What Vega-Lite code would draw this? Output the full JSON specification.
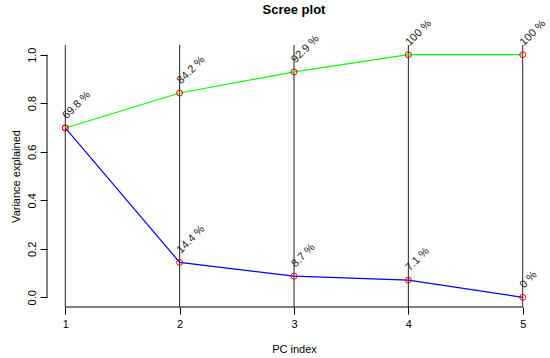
{
  "$schema": "https://vega.github.io/schema/vega-lite/v6.json",
  "autosize": {"type": "none"},
  "width": 494,
  "height": 262,
  "padding": {"left": 47, "top": 45, "right": 9, "bottom": 51},
  "background": "white",
  "config": {
    "view": {"stroke": null},
    "font": "Liberation Sans",
    "axis": {"grid": false, "domain": false, "tickColor": "#000", "labelColor": "#000", "titleColor": "#000", "labelFontSize": 11, "titleFontSize": 11, "titleFontWeight": "normal", "tickSize": 7, "labelFont": "Liberation Sans", "titleFont": "Liberation Sans"}
  },
  "title": {"text": "Scree plot", "fontSize": 13, "fontWeight": "bold", "color": "#000", "anchor": "middle", "offset": 1, "font": "Liberation Sans"},
  "datasets": {
    "pts": [
      {"pc": 1, "series": "individual", "value": 0.698, "label": "69.8 %"},
      {"pc": 2, "series": "individual", "value": 0.144, "label": "14.4 %"},
      {"pc": 3, "series": "individual", "value": 0.087, "label": "8.7 %"},
      {"pc": 4, "series": "individual", "value": 0.071, "label": "7.1 %"},
      {"pc": 5, "series": "individual", "value": 0.0, "label": "0 %"},
      {"pc": 1, "series": "cumulative", "value": 0.698, "label": "69.8 %"},
      {"pc": 2, "series": "cumulative", "value": 0.842, "label": "84.2 %"},
      {"pc": 3, "series": "cumulative", "value": 0.929, "label": "92.9 %"},
      {"pc": 4, "series": "cumulative", "value": 1.0, "label": "100 %"},
      {"pc": 5, "series": "cumulative", "value": 1.0, "label": "100 %"}
    ],
    "vlines": [
      {"x": 1, "y": -0.04, "y2": 1.04},
      {"x": 2, "y": -0.04, "y2": 1.04},
      {"x": 3, "y": -0.04, "y2": 1.04},
      {"x": 4, "y": -0.04, "y2": 1.04},
      {"x": 5, "y": -0.04, "y2": 1.04}
    ],
    "axislines": [
      {"x": 1, "x2": 5, "y": -0.04, "y2": -0.04},
      {"x": 0.84, "x2": 0.84, "y": 0, "y2": 1}
    ]
  },
  "layer": [
    {
      "data": {"name": "vlines"},
      "mark": {"type": "rule", "color": "#222", "strokeWidth": 1},
      "encoding": {
        "x": {"field": "x", "type": "quantitative", "scale": {"domain": [0.84, 5.16], "nice": false, "zero": false},
              "axis": {"values": [1, 2, 3, 4, 5], "format": "d", "title": "PC index", "labelPadding": 4, "titlePadding": 14}},
        "y": {"field": "y", "type": "quantitative", "scale": {"domain": [-0.04, 1.04], "nice": false, "zero": false},
              "axis": {"values": [0, 0.2, 0.4, 0.6, 0.8, 1.0], "format": ".1f", "title": "Variance explained", "labelAngle": -90, "labelAlign": "center", "labelBaseline": "bottom", "labelPadding": 3, "titlePadding": 5}},
        "y2": {"field": "y2"}
      }
    },
    {
      "data": {"name": "axislines"},
      "mark": {"type": "rule", "color": "#000", "strokeWidth": 1},
      "encoding": {
        "x": {"field": "x", "type": "quantitative"},
        "x2": {"field": "x2"},
        "y": {"field": "y", "type": "quantitative"},
        "y2": {"field": "y2"}
      }
    },
    {
      "data": {"name": "pts"},
      "mark": {"type": "line", "strokeWidth": 1.2},
      "encoding": {
        "x": {"field": "pc", "type": "quantitative"},
        "y": {"field": "value", "type": "quantitative"},
        "color": {"field": "series", "type": "nominal", "scale": {"domain": ["individual", "cumulative"], "range": ["#0000FF", "#00FF00"]}, "legend": null}
      }
    },
    {
      "data": {"name": "pts"},
      "mark": {"type": "point", "shape": "circle", "filled": false, "color": "#FF0000", "size": 36, "strokeWidth": 1, "opacity": 1},
      "encoding": {
        "x": {"field": "pc", "type": "quantitative"},
        "y": {"field": "value", "type": "quantitative"}
      }
    },
    {
      "data": {"name": "pts"},
      "transform": [{"filter": "!(datum.series == 'cumulative' && datum.pc == 1)"}],
      "mark": {"type": "text", "angle": 315, "align": "left", "baseline": "bottom", "dx": 7, "dy": -3, "fontSize": 11, "color": "#222", "font": "Liberation Sans"},
      "encoding": {
        "x": {"field": "pc", "type": "quantitative"},
        "y": {"field": "value", "type": "quantitative"},
        "text": {"field": "label"}
      }
    }
  ]
}
